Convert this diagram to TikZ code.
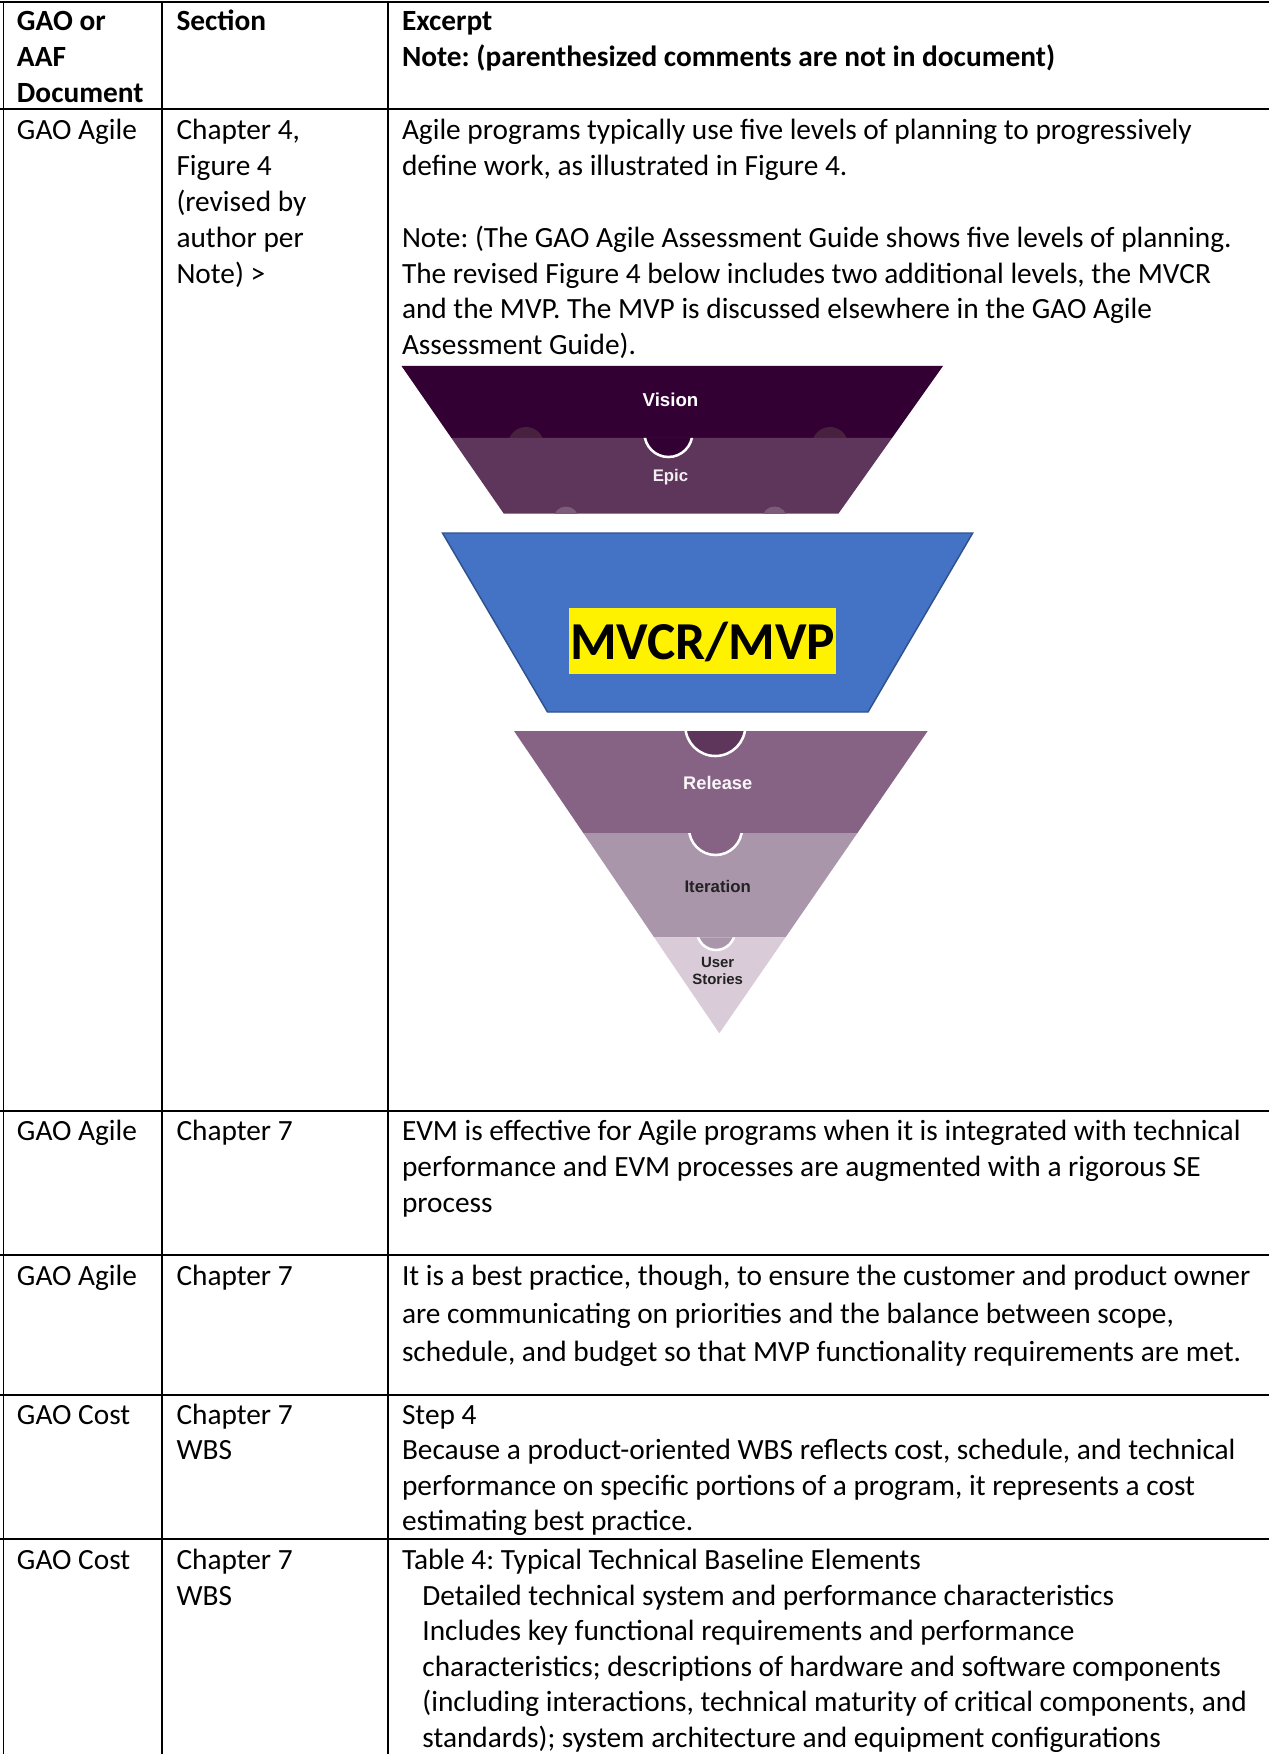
\documentclass[tikz,border=0pt]{standalone}
\usepackage{fontspec}
\setmainfont{Carlito}
\newfontfamily\figfont{Liberation Sans}
\definecolor{cvision}{HTML}{330033}
\definecolor{cepic}{HTML}{5E355B}
\definecolor{cbumpa}{HTML}{48213F}
\definecolor{cbumpb}{HTML}{7E5B7B}
\definecolor{crelease}{HTML}{866384}
\definecolor{citer}{HTML}{AA96AA}
\definecolor{cuser}{HTML}{D9CCD8}
\definecolor{cmvfill}{HTML}{4472C4}
\definecolor{cmvline}{HTML}{2F528F}
\definecolor{cdarktxt}{HTML}{222222}
\tikzset{
  cell/.style={anchor=base west, inner sep=0pt, outer sep=0pt, font=\fontsize{11}{13}\selectfont\frenchspacing},
  hcell/.style={cell, font=\fontsize{11}{13}\selectfont\bfseries\frenchspacing},
  gridline/.style={line width=0.6pt, black},
  lvl/.style={inner sep=0pt, outer sep=0pt, anchor=center, align=center},
  notch/.style={draw=white, line width=0.95pt},
}
\newcommand\cellblock[6]{%
  \foreach \celltext [count=\k from 0] in {#6} {%
    \node[#1] (#2-\k) at (#3,{#4+\k*#5}) {\celltext};}}
\begin{document}
\frenchspacing
\begin{tikzpicture}[x=0.375pt,y=-0.375pt]
\useasboundingbox (0,0) rectangle (1269,1754);
\fill[white] (0,0) rectangle (1269,1754);

% ---------- table grid ----------
\draw[gridline] (0,1.8) -- (1269,1.8);
\foreach \yy in {109,1111,1255,1395,1539} {\draw[gridline] (0,\yy) -- (1269,\yy);}
\foreach \xx in {3.3,162,388} {\draw[gridline] (\xx,1.8) -- (\xx,1754);}

% ---------- header ----------
\cellblock{hcell}{h1}{17}{31}{36}{{GAO or},{AAF},{Document}}
\node[hcell] (h2) at (176.5,31) {Section};
\cellblock{hcell}{h3}{402}{31}{36}{{Excerpt},{Note: (parenthesized comments are not in document)}}

% ---------- row 1 ----------
\node[cell] (r1a) at (17,140) {GAO Agile};
\cellblock{cell}{r1b}{176.5}{140}{35.8}{{Chapter 4,},{Figure 4},{(revised by},{author per},{Note) >}}
\cellblock{cell}{r1c}{402}{140}{35.8}{{Agile programs typically use five levels of planning to progressively},{define work, as illustrated in Figure 4.}}
\cellblock{cell}{r1d}{402}{247.4}{35.8}{{Note: (The GAO Agile Assessment Guide shows five levels of planning.},{The revised Figure 4 below includes two additional levels, the MVCR},{and the MVP. The MVP is discussed elsewhere in the GAO Agile},{Assessment Guide).}}

% ---------- figure: Vision / Epic ----------
\fill[cvision] (401.5,366) -- (943,366) -- (892,438) -- (451.4,438) -- cycle;
\fill[cbumpa] (526,445) circle (18);
\fill[cbumpa] (830,445) circle (18);
\fill[cepic] (451.4,438) -- (892,438) -- (838.5,513.5) -- (503.7,513.5) -- cycle;
\begin{scope}
  \clip (451.4,438) -- (892,438) -- (838.5,513.5) -- (503.7,513.5) -- cycle;
  \filldraw[fill=cvision, notch] (668.4,433) circle (24);
\end{scope}
\begin{scope}
  \clip (0,0) rectangle (1269,513.5);
  \fill[cbumpb] (566,519) circle (12.5);
  \fill[cbumpb] (774.6,519) circle (12.5);
\end{scope}
\node[lvl, text=white, font=\figfont\bfseries\fontsize{7}{8}\selectfont] (vision) at (670.5,400) {Vision};
\node[lvl, text=white!92!cepic, font=\figfont\bfseries\fontsize{6.3}{7}\selectfont] (epic) at (670.5,477) {Epic};

% ---------- figure: MVCR/MVP ----------
\filldraw[fill=cmvfill, draw=cmvline, line width=0.55pt] (442.5,533) -- (972.7,533) -- (868,712) -- (547.5,712) -- cycle;
\fill[yellow] (569,608) rectangle (836,673.5);
\node[inner sep=0pt, anchor=base, font=\fontsize{20}{23}\selectfont\bfseries] (mvcr) at (702.5,659) {MVCR/MVP};

% ---------- figure: Release / Iteration / User Stories ----------
\fill[crelease] (514,731) -- (927.7,731) -- (857.4,833) -- (583.3,833) -- cycle;
\fill[citer] (583.3,833) -- (857.4,833) -- (785.5,937.3) -- (654.1,937.3) -- cycle;
\fill[cuser] (654.1,937.3) -- (785.5,937.3) -- (719.3,1033.3) -- cycle;
\begin{scope}
  \clip (514,731) -- (927.7,731) -- (857.4,833) -- (583.3,833) -- cycle;
  \filldraw[fill=cepic, notch] (715.3,726) circle (30);
\end{scope}
\begin{scope}
  \clip (583.3,833) -- (857.4,833) -- (785.5,937.3) -- (654.1,937.3) -- cycle;
  \filldraw[fill=crelease, notch] (715.5,828.5) circle (26.5);
\end{scope}
\begin{scope}
  \clip (654.1,937.3) -- (785.5,937.3) -- (719.3,1033.3) -- cycle;
  \filldraw[fill=citer, notch] (716,931) circle (19);
\end{scope}
\node[lvl, text=white!95!crelease, font=\figfont\bfseries\fontsize{6.85}{8}\selectfont] (release) at (717.7,783) {Release};
\node[lvl, text=cdarktxt, font=\figfont\bfseries\fontsize{6.3}{7}\selectfont] (iteration) at (717.7,886) {Iteration};
\node[lvl, text=cdarktxt, font=\figfont\bfseries\fontsize{5.6}{6.1}\selectfont] (user) at (717.7,971) {User\\Stories};

% ---------- row 2 ----------
\node[cell] (r2a) at (17,1140.5) {GAO Agile};
\node[cell] (r2b) at (176.5,1140.5) {Chapter 7};
\cellblock{cell}{r2c}{402}{1140.5}{36}{{EVM is effective for Agile programs when it is integrated with technical},{performance and EVM processes are augmented with a rigorous SE},{process}}

% ---------- row 3 ----------
\node[cell] (r3a) at (17,1285.5) {GAO Agile};
\node[cell] (r3b) at (176.5,1285.5) {Chapter 7};
\cellblock{cell}{r3c}{402}{1285.5}{37.8}{{It is a best practice, though, to ensure the customer and product owner},{are communicating on priorities and the balance between scope,},{schedule, and budget so that MVP functionality requirements are met.}}

% ---------- row 4 ----------
\node[cell] (r4a) at (17,1424) {GAO Cost};
\cellblock{cell}{r4b}{176.5}{1424}{35.5}{{Chapter 7},{WBS}}
\cellblock{cell}{r4c}{402}{1424}{35.5}{{Step 4},{Because a product-oriented WBS reflects cost, schedule, and technical},{performance on specific portions of a program, it represents a cost},{estimating best practice.}}

% ---------- row 5 ----------
\node[cell] (r5a) at (17,1569.5) {GAO Cost};
\cellblock{cell}{r5b}{176.5}{1569.5}{35.5}{{Chapter 7},{WBS}}
\node[cell] (r5c) at (402,1569.5) {Table 4: Typical Technical Baseline Elements};
\cellblock{cell}{r5d}{422.4}{1605}{35.5}{{Detailed technical system and performance characteristics},{Includes key functional requirements and performance},{characteristics; descriptions of hardware and software components},{(including interactions, technical maturity of critical components, and},{standards); system architecture and equipment configurations}}
\end{tikzpicture}
\end{document}
